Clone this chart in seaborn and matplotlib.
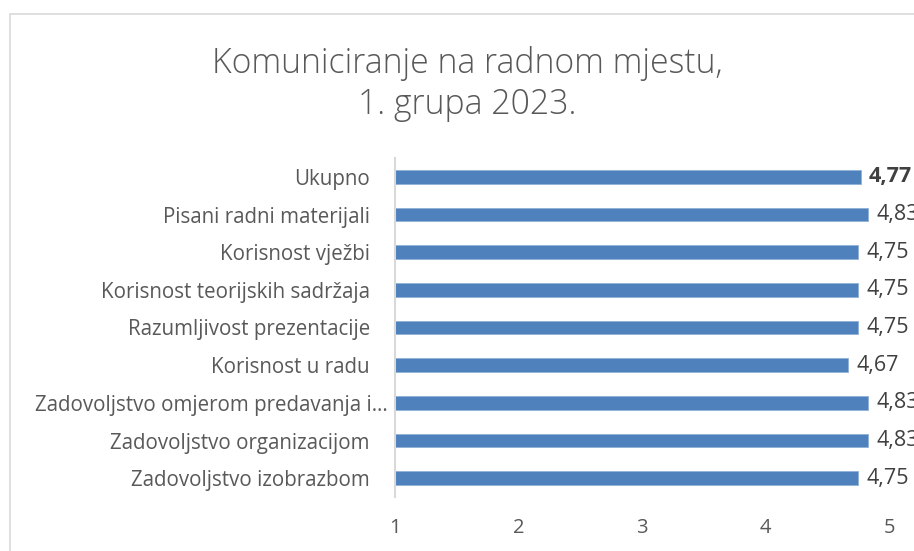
import matplotlib
matplotlib.use("Agg")
import matplotlib.pyplot as plt
import seaborn as sns
import pandas as pd
from matplotlib.patches import Rectangle

# podaci (odozgo prema dolje)
kategorije = ["Ukupno", "Pisani radni materijali", "Korisnost vježbi",
              "Korisnost teorijskih sadržaja", "Razumljivost prezentacije",
              "Korisnost u radu", "Zadovoljstvo omjerom predavanja i…",
              "Zadovoljstvo organizacijom", "Zadovoljstvo izobrazbom"]
ocjene = [4.77, 4.83, 4.75, 4.75, 4.75, 4.67, 4.83, 4.83, 4.75]
x_ticks = [1, 2, 3, 4, 5]

df = pd.DataFrame({"kategorija": kategorije, "ocjena": ocjene})

sns.set_theme(style="white")
plt.rcParams["font.family"] = ["Open Sans", "DejaVu Sans"]

fig = plt.figure(figsize=(9.14, 5.51), dpi=100)
ax = fig.add_axes([395 / 914, 1 - 497 / 551, (889 - 395) / 914, (497 - 158) / 551])

sns.barplot(data=df, y="kategorija", x="ocjena", color="#4F81BD", width=0.36,
            edgecolor="#8FB0D8", linewidth=0.6, saturation=1, ax=ax)

ax.set_xlim(1, 5)
ax.set_xticks(x_ticks)
ax.set_xticklabels([str(t) for t in x_ticks], fontsize=14.5, color="#595959")
ax.tick_params(axis="y", labelsize=14.8, colors="#595959", length=0, pad=18)
ax.tick_params(axis="x", length=0, pad=15)
ax.set_xlabel("")
ax.set_ylabel("")
for s in ["top", "right", "bottom"]:
    ax.spines[s].set_visible(False)
ax.spines["left"].set_color("#D9D9D9")
ax.spines["left"].set_linewidth(1.5)

# skraćena oznaka u Excelu ide bliže osi
for lbl in ax.get_yticklabels():
    if lbl.get_text().endswith("…"):
        lbl.set_x(0.036)

# oznake vrijednosti
for i, v in enumerate(ocjene):
    ax.text(v + 0.065, i, f"{v:.2f}".replace(".", ","), va="center", ha="left",
            fontsize=15.5, color="#404040", clip_on=False,
            fontweight="bold" if i == 0 else "normal")

fig.text(467 / 914, 1 - 84 / 551, "Komuniciranje na radnom mjestu,\n1. grupa 2023.",
         ha="center", va="center", fontsize=24.3, color="#595959",
         fontweight="light", linespacing=1.25)

# okvir grafikona
fig.patches.append(Rectangle((10 / 914, -0.1), 1.2, 1 - 14 / 551 + 0.1,
                             transform=fig.transFigure, fill=False,
                             edgecolor="#D9D9D9", linewidth=1.2))

fig.savefig("out.png", dpi=100, facecolor="white")
